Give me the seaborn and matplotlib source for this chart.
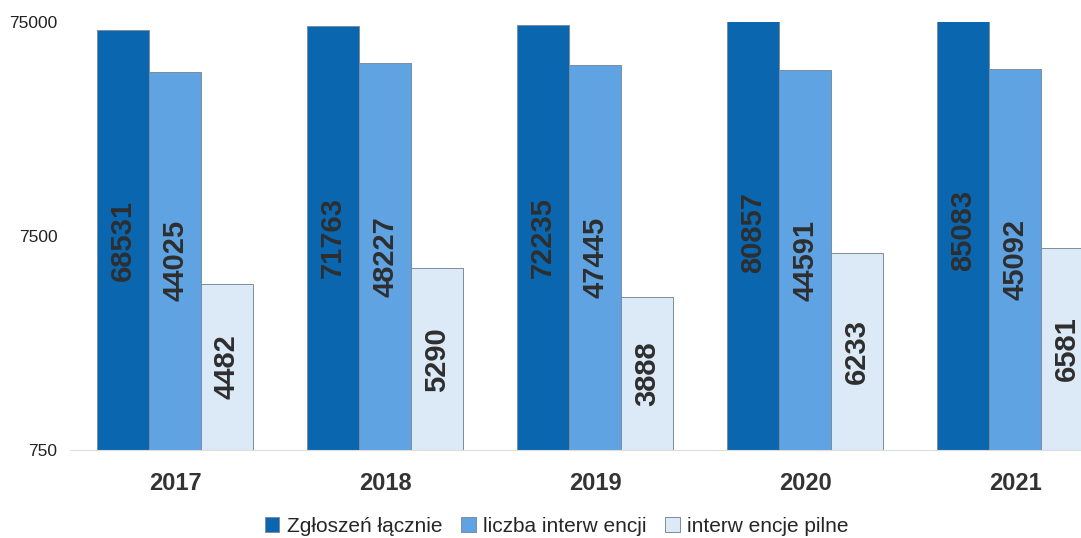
import numpy as np
import pandas as pd
import seaborn as sns
import matplotlib.pyplot as plt

# values
years = ['2017', '2018', '2019', '2020', '2021']
zgloszenia = [68531, 71763, 72235, 80857, 85083]
interwencje = [44025, 48227, 47445, 44591, 45092]
pilne = [4482, 5290, 3888, 6233, 6581]
series = ['Zgłoszeń łącznie', 'liczba interw encji', 'interw encje pilne']
y_ticks = [750, 7500, 75000]

df = pd.DataFrame({
    'year': years * 3,
    'value': zgloszenia + interwencje + pilne,
    'series': np.repeat(series, len(years)),
})

sns.set_theme(style='white')
plt.rcParams['font.family'] = ['Liberation Sans', 'DejaVu Sans']

fig = plt.figure(figsize=(10.81, 5.38), dpi=100)
ax = fig.add_axes([0.0648, 0.1636, 0.9713, 0.7955])

palette = {series[0]: '#0b66b0', series[1]: '#5fa3e2', series[2]: '#dce9f7'}
sns.barplot(data=df, x='year', y='value', hue='series', palette=palette,
            width=0.74, saturation=1, edgecolor='#7d8c9c', linewidth=0.7,
            ax=ax, legend=True)

ax.set_yscale('log')
ax.set_ylim(750, 75000)
ax.set_xlim(-0.5, len(years) - 0.5)
ax.set_yticks(y_ticks)
ax.set_yticklabels([str(t) for t in y_ticks])
ax.minorticks_off()
ax.set_xlabel('')
ax.set_ylabel('')
ax.tick_params(axis='y', labelsize=12.5, pad=9, colors='#222222', length=0)
ax.tick_params(axis='x', labelsize=17, pad=16, colors='#333333', length=0)
for lbl in ax.get_xticklabels():
    lbl.set_fontweight('bold')

for s in ['top', 'right', 'left']:
    ax.spines[s].set_visible(False)
ax.spines['bottom'].set_color('#dddddd')
ax.spines['bottom'].set_linewidth(0.8)

# value labels, centred in each bar on the log axis
for bars in ax.containers:
    for bar in bars:
        h = bar.get_height()
        if not h or np.isnan(h):
            continue
        xc = bar.get_x() + bar.get_width() / 2
        ax.text(xc, np.sqrt(h * 750), f'{int(round(h))}', rotation=90,
                ha='center', va='center', fontsize=21, fontweight='bold',
                color='#2e2e2e')

handles, labels = ax.get_legend_handles_labels()
ax.legend(handles, labels, loc='center', bbox_to_anchor=(0.515, 0.022),
          bbox_transform=fig.transFigure, ncol=3, frameon=False,
          fontsize=15, handlelength=0.7, handleheight=0.7,
          handletextpad=0.35, columnspacing=0.9)

fig.savefig('out.png', dpi=100)
